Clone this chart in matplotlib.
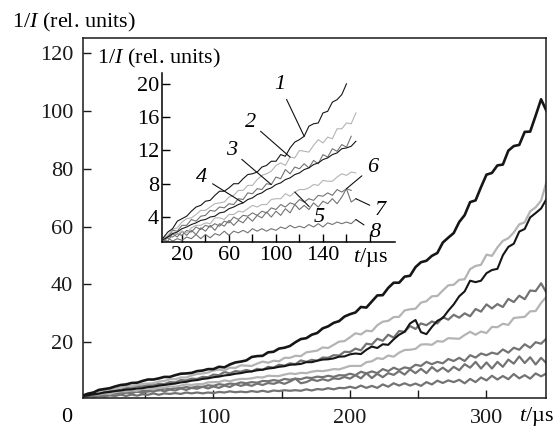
import matplotlib
matplotlib.use('Agg')
import matplotlib.pyplot as plt

plt.rcParams['font.family'] = 'Liberation Serif'
plt.rcParams['mathtext.fontset'] = 'custom'
plt.rcParams['mathtext.rm'] = 'Liberation Serif'
plt.rcParams['mathtext.it'] = 'Liberation Serif:italic'

# time grid, microseconds
t_us = list(range(4, 348, 4))

# 1/I traces (rel. units), one per curve
curve_1 = [1.5, 2.2, 2.6, 3.5, 3.8, 4.1, 4.7, 5.2, 5.4, 5.9,
           6.0, 6.6, 7.1, 7.1, 7.5, 8.0, 8.0, 8.6, 9.1, 9.2,
           9.4, 10.0, 10.2, 10.7, 10.7, 11.5, 11.3, 12.3, 13.0, 13.3,
           13.7, 14.9, 15.2, 15.3, 16.5, 16.7, 17.8, 18.1, 18.7, 20.0,
           21.1, 21.4, 22.6, 23.2, 24.8, 25.5, 26.7, 27.3, 28.9, 29.7,
           30.3, 32.2, 32.0, 34.1, 36.2, 36.3, 38.8, 40.6, 40.6, 42.7,
           43.0, 46.0, 47.7, 48.2, 49.9, 50.9, 54.5, 56.2, 57.8, 61.6,
           64.0, 68.5, 69.1, 73.7, 78.0, 78.6, 81.2, 81.5, 86.3, 87.9,
           88.3, 92.8, 92.9, 98.4, 104.1, 100.0]
curve_2 = [1.4, 1.8, 2.5, 2.7, 3.4, 3.8, 3.9, 4.3, 4.8, 4.8,
           5.2, 5.6, 5.7, 5.8, 6.4, 6.6, 7.2, 7.2, 7.8, 7.8,
           8.5, 9.0, 9.2, 9.5, 10.2, 10.5, 10.2, 11.2, 11.1, 12.0,
           11.9, 11.8, 12.6, 13.3, 12.9, 13.6, 13.4, 14.6, 14.6, 15.3,
           15.2, 16.5, 16.8, 17.1, 18.2, 18.0, 19.1, 20.2, 20.4, 21.7,
           23.1, 22.7, 24.0, 23.8, 25.9, 27.1, 27.4, 28.7, 28.8, 31.0,
           31.4, 31.6, 33.7, 34.2, 35.9, 36.0, 37.9, 39.7, 39.9, 41.6,
           41.8, 45.3, 46.4, 46.8, 50.3, 49.9, 52.8, 55.1, 56.0, 58.0,
           60.8, 61.5, 65.3, 66.7, 69.0, 75.6]
curve_3 = [1.4, 1.6, 2.4, 2.3, 3.0, 3.0, 3.7, 3.5, 4.1, 4.2,
           4.8, 4.7, 5.2, 5.1, 5.6, 5.5, 6.2, 6.1, 6.9, 6.8,
           7.4, 7.3, 8.0, 7.9, 8.8, 8.6, 9.7, 9.2, 10.0, 9.8,
           10.4, 9.9, 10.8, 10.4, 11.5, 11.2, 12.2, 11.9, 12.7, 12.4,
           13.7, 13.2, 13.9, 13.6, 14.7, 14.6, 15.5, 15.4, 16.7, 16.6,
           17.8, 17.2, 19.5, 19.2, 21.2, 20.5, 22.6, 21.6, 23.9, 23.6,
           25.6, 24.6, 26.5, 25.9, 27.2, 26.5, 28.7, 27.8, 29.5, 28.5,
           30.0, 29.0, 31.5, 30.6, 33.1, 31.7, 33.2, 32.2, 35.0, 33.9,
           36.1, 34.9, 37.9, 37.7, 40.4, 37.1]
curve_4 = [1.3, 1.6, 2.0, 2.2, 2.6, 2.8, 3.1, 3.3, 3.6, 3.7,
           4.0, 4.1, 4.5, 4.6, 5.0, 5.2, 5.5, 5.7, 6.1, 6.3,
           6.7, 6.9, 7.3, 7.5, 7.9, 8.1, 8.5, 8.7, 9.1, 9.3,
           9.7, 9.9, 10.3, 10.5, 10.9, 11.1, 11.5, 11.7, 12.2, 12.3,
           12.5, 13.1, 13.1, 13.6, 14.0, 14.1, 14.4, 15.0, 15.1, 15.8,
           16.1, 15.9, 17.4, 18.5, 18.0, 19.3, 19.1, 21.0, 22.6, 23.6,
           26.5, 27.7, 23.5, 22.8, 25.3, 27.4, 28.4, 30.9, 33.1, 35.9,
           37.6, 41.3, 40.8, 41.3, 43.9, 45.0, 45.4, 50.1, 53.0, 54.1,
           58.3, 59.2, 63.2, 64.7, 66.3, 69.6]
curve_5 = [1.3, 1.8, 2.1, 1.9, 2.3, 2.1, 2.7, 3.0, 3.0, 3.3,
           3.2, 3.9, 3.9, 3.7, 4.3, 4.3, 4.7, 4.6, 5.0, 5.4,
           5.2, 5.5, 5.5, 6.1, 6.2, 6.2, 6.8, 6.5, 7.0, 7.3,
           7.3, 7.5, 7.9, 7.8, 8.4, 8.3, 8.3, 8.8, 9.2, 9.0,
           9.4, 9.3, 9.8, 10.1, 10.0, 10.3, 10.7, 10.6, 11.2, 11.8,
           11.8, 11.8, 13.1, 13.4, 14.5, 14.2, 15.4, 15.0, 16.4, 17.3,
           17.4, 17.7, 19.2, 19.3, 19.1, 20.4, 20.2, 21.4, 21.3, 21.2,
           22.5, 23.6, 22.6, 23.7, 23.2, 25.3, 25.2, 26.4, 26.0, 28.4,
           28.6, 28.8, 30.7, 30.8, 33.6, 35.8]
curve_6 = [1.3, 1.7, 1.6, 2.0, 1.8, 2.4, 2.2, 2.8, 2.5, 3.0,
           2.8, 3.2, 2.9, 3.5, 3.3, 4.0, 3.7, 4.2, 4.1, 4.5,
           4.2, 4.7, 4.5, 5.1, 4.9, 5.5, 5.2, 5.7, 5.5, 6.1,
           5.8, 6.2, 6.0, 6.6, 6.5, 6.9, 6.6, 7.3, 7.0, 7.4,
           7.2, 7.8, 7.6, 8.1, 7.9, 8.4, 8.0, 8.6, 8.5, 9.1,
           8.6, 9.8, 9.2, 9.9, 9.3, 10.7, 10.0, 11.2, 10.4, 11.3,
           10.9, 12.2, 11.8, 13.2, 12.4, 13.2, 12.7, 14.2, 13.5, 14.6,
           13.5, 15.5, 14.7, 16.1, 15.5, 16.4, 15.9, 17.5, 16.4, 18.1,
           17.4, 19.3, 18.1, 20.0, 19.5, 21.3]
curve_7 = [1.2, 1.1, 2.0, 1.6, 2.3, 1.8, 2.4, 1.9, 2.7, 2.3,
           3.0, 2.4, 3.2, 2.9, 3.6, 3.0, 3.6, 3.3, 4.0, 3.5,
           4.2, 3.9, 4.6, 4.0, 4.7, 4.2, 5.0, 4.5, 5.5, 4.9,
           5.4, 4.9, 5.7, 5.2, 5.9, 5.6, 6.2, 5.6, 6.4, 7.4,
           5.8, 6.2, 7.1, 6.6, 7.2, 6.7, 7.5, 7.3, 8.0, 7.4,
           8.6, 7.5, 9.3, 7.6, 9.1, 7.9, 9.3, 8.7, 10.0, 8.8,
           10.6, 9.3, 10.8, 9.3, 11.4, 9.9, 11.2, 9.8, 11.5, 10.3,
           12.4, 11.2, 13.2, 10.9, 13.0, 10.9, 13.2, 11.5, 14.0, 12.6,
           15.1, 12.8, 14.8, 12.3, 14.6, 12.7]
curve_8 = [1.1, 1.5, 1.1, 1.4, 1.2, 1.6, 1.4, 1.9, 1.4, 1.9,
           1.5, 2.0, 1.8, 2.3, 1.8, 2.3, 2.1, 2.4, 2.1, 2.6,
           2.3, 2.6, 2.3, 2.6, 2.4, 2.8, 2.6, 3.0, 2.7, 2.9,
           2.7, 3.1, 2.8, 3.2, 2.8, 3.3, 3.1, 3.4, 3.2, 3.4,
           3.2, 3.7, 3.3, 3.8, 3.6, 4.1, 3.7, 4.2, 4.1, 4.6,
           4.1, 5.0, 4.2, 4.9, 4.2, 5.4, 4.6, 5.8, 5.0, 5.8,
           5.0, 5.7, 4.9, 6.2, 5.4, 6.7, 5.9, 6.8, 6.2, 7.0,
           5.8, 7.3, 6.2, 7.8, 6.8, 8.4, 7.1, 8.3, 7.2, 9.0,
           7.5, 8.6, 7.4, 9.2, 8.2, 9.2]

curves = [curve_1, curve_2, curve_3, curve_4, curve_5, curve_6, curve_7, curve_8]
for c in curves:
    assert len(c) == len(t_us), len(c)

# last time (us) of each trace shown in the inset
inset_end = [160, 168, 164, 168, 168, 164, 168, 168]

BLACK = '#161616'
LIGHT = '#b4b4b4'
DARK = '#737373'
colors = [BLACK, LIGHT, DARK, BLACK, LIGHT, DARK, DARK, DARK]
main_lw = [1.9, 1.6, 1.6, 1.5, 1.6, 1.6, 1.6, 1.6]
draw_order = [7, 6, 5, 4, 2, 1, 3, 0]
FS = 16

fig = plt.figure(figsize=(5.58, 4.28), dpi=100)

# main panel
ax = fig.add_axes([83 / 558, 1 - 398 / 428, 463 / 558, 360 / 428])
for i in draw_order:
    ax.plot(t_us, curves[i], color=colors[i], lw=main_lw[i])
ax.set_xlim(4.4, 343.6)
ax.set_ylim(0.7, 125.3)
ax.set_xticks([50, 100, 150, 200, 250, 300])
ax.set_xticklabels(['', '100', '', '200', '', '300'])
ax.set_yticks([20, 40, 60, 80, 100, 120])
ax.tick_params(direction='in', length=6, width=1, labelsize=FS, colors='#1a1a1a')
ax.tick_params(axis='x', pad=8)
ax.tick_params(axis='y', pad=7)
for s in ax.spines.values():
    s.set_linewidth(1.1)
    s.set_color('#1a1a1a')

fig.text(67 / 558, 1 - 417 / 428, '0', fontsize=FS, ha='center', va='center')
fig.text(536 / 558, 1 - 416 / 428, '$t$/µs', fontsize=FS, ha='center', va='center')
fig.text(12 / 558, 1 - 22 / 428, '1/$I$ (rel. units)', fontsize=FS, ha='left', va='center')

# inset
axi = fig.add_axes([162 / 558, 1 - 242 / 428, 233 / 558, 169 / 428])
axi.patch.set_alpha(0)
for i in draw_order:
    n = (inset_end[i] - t_us[0]) // 4 + 1
    axi.plot(t_us[:n], curves[i][:n], color=colors[i], lw=0.8)
axi.set_xlim(3, 201.3)
axi.set_ylim(1.0, 21.3)
axi.spines['top'].set_visible(False)
axi.spines['right'].set_visible(False)
for s in ('left', 'bottom'):
    axi.spines[s].set_linewidth(1.1)
axi.set_xticks([20, 40, 60, 80, 100, 120, 140, 160, 180])
axi.set_xticklabels(['20', '', '60', '', '100', '', '140', '', '$t$/µs'])
axi.set_yticks([4, 8, 12, 16, 20])
axi.tick_params(direction='in', length=6, width=1, labelsize=FS)
axi.tick_params(axis='x', pad=3)
axi.tick_params(axis='y', pad=2)
fig.text(97 / 558, 1 - 58 / 428, '1/$I$ (rel. units)', fontsize=FS, ha='left', va='center')

# curve numbers with leader lines: (label, curve index, sample index of tip, text pos)
labels = [
    ('1', 0, 30, (103, 19.9)),
    ('2', 1, 27, (78, 15.4)),
    ('3', 2, 23, (62, 12.0)),
    ('4', 3, 17, (37, 8.8)),
    ('5', 4, 28, (137, 4.0)),
    ('6', 5, 39, (182, 10.0)),
    ('7', 6, 41, (189, 4.8)),
    ('8', 7, 41, (184, 2.2)),
]
for text, ci, k, pos in labels:
    axi.annotate(text, xy=(t_us[k], curves[ci][k]), xytext=pos,
                 fontsize=FS, style='italic', ha='center', va='center',
                 arrowprops=dict(arrowstyle='-', color='#111111', lw=0.8,
                                 shrinkA=2, shrinkB=0),
                 annotation_clip=False)

fig.savefig('out.png', dpi=100)
